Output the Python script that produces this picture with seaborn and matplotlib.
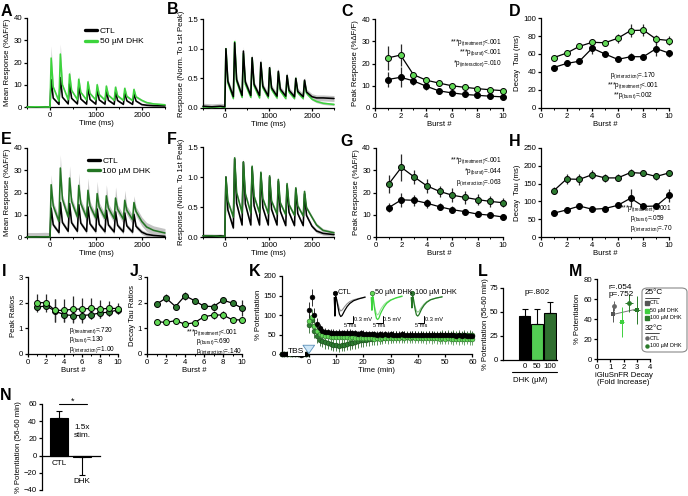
import matplotlib
matplotlib.use("Agg")
import matplotlib.pyplot as plt
from matplotlib.patches import FancyBboxPatch
from matplotlib.lines import Line2D
from matplotlib.ticker import MultipleLocator
import numpy as np
import seaborn as sns

# ======================= DATA =======================
BURST_ONSET_MS = [0, 200, 400, 600, 800, 1000, 1200, 1400, 1600, 1800]
TRACE_BASE_MS = [-500, -300, -100, 0]
TRACE_TAIL_MS = [2100, 2250, 2500]

# Panel A : 50 uM DHK, mean response (%dF/F)
A_CTL_BASE = [0.1, 0.0, 0.1, 0.0]
A_CTL_PEAK = [12.3, 13.2, 10.4, 9.3, 8.6, 7.8, 7.3, 6.8, 6.4, 6.0]
A_CTL_MID = [4.0, 4.4, 3.9, 3.6, 3.4, 3.2, 3.0, 2.9, 2.8, 2.7]
A_CTL_TROUGH = [1.2, 1.4, 1.4, 1.3, 1.3, 1.3, 1.2, 1.2, 1.2, 1.1]
A_CTL_TAIL = [0.8, 0.6, 0.5]
A_CTL_PEAK_SEM = [2.0, 2.5, 1.5, 1.2, 1.0, 1.0, 0.9, 0.9, 0.8, 0.8]
A_CTL_SEM = 0.4
A_DHK_BASE = [0.0, 0.1, 0.0, 0.0]
A_DHK_PEAK = [22.0, 23.8, 14.8, 12.5, 11.3, 10.0, 9.4, 8.9, 8.4, 7.9]
A_DHK_MID = [9.0, 10.0, 7.5, 6.6, 6.1, 5.6, 5.3, 5.0, 4.8, 4.6]
A_DHK_TROUGH = [2.6, 3.3, 3.3, 3.2, 3.2, 3.1, 3.0, 3.0, 2.9, 3.0]
A_DHK_TAIL = [2.0, 1.4, 1.0]
A_DHK_PEAK_SEM = [5.5, 4.5, 1.8, 1.5, 1.2, 1.2, 1.0, 1.0, 0.9, 0.9]
A_DHK_SEM = 0.5

# Panel B : 50 uM DHK, normalised to first peak
B_CTL_BASE = [0.03, 0.02, 0.03, 0.02]
B_CTL_PEAK = [1.0, 1.1, 0.96, 0.85, 0.77, 0.68, 0.62, 0.55, 0.50, 0.47]
B_CTL_MID = [0.45, 0.48, 0.44, 0.40, 0.37, 0.34, 0.32, 0.30, 0.28, 0.27]
B_CTL_TROUGH = [0.19, 0.21, 0.21, 0.21, 0.2, 0.2, 0.2, 0.19, 0.19, 0.19]
B_CTL_TAIL = [0.17, 0.17, 0.16]
B_CTL_PEAK_SEM = [0.02, 0.07, 0.08, 0.07, 0.07, 0.06, 0.06, 0.06, 0.05, 0.05]
B_CTL_SEM = 0.05
B_DHK_BASE = [0.02, 0.01, 0.02, 0.01]
B_DHK_PEAK = [1.0, 1.12, 0.92, 0.84, 0.75, 0.67, 0.60, 0.54, 0.50, 0.45]
B_DHK_MID = [0.42, 0.45, 0.40, 0.37, 0.34, 0.31, 0.29, 0.27, 0.26, 0.25]
B_DHK_TROUGH = [0.16, 0.18, 0.18, 0.17, 0.17, 0.17, 0.16, 0.16, 0.16, 0.15]
B_DHK_TAIL = [0.11, 0.08, 0.06]
B_DHK_PEAK_SEM = [0.01, 0.04, 0.04, 0.04, 0.03, 0.03, 0.03, 0.03, 0.03, 0.03]
B_DHK_SEM = 0.02

# Panel E : 100 uM DHK, mean response (%dF/F)
E_CTL_BASE = [0.0, 0.1, 0.0, 0.0]
E_CTL_PEAK = [13.0, 15.5, 15.0, 14.5, 13.5, 12.6, 12.0, 11.3, 10.8, 10.2]
E_CTL_MID = [5.5, 6.5, 6.4, 6.2, 5.9, 5.6, 5.4, 5.2, 5.0, 4.8]
E_CTL_TROUGH = [2.0, 2.6, 2.6, 2.5, 2.5, 2.4, 2.3, 2.3, 2.2, 2.2]
E_CTL_TAIL = [1.2, 0.7, 0.3]
E_CTL_PEAK_SEM = [2.0, 3.0, 3.0, 3.0, 2.5, 2.5, 2.5, 2.0, 2.0, 2.0]
E_CTL_SEM = 1.0
E_DHK_BASE = [0.0, 0.0, 0.1, 0.0]
E_DHK_PEAK = [23.5, 31.0, 26.5, 23.2, 21.0, 19.5, 18.5, 17.5, 16.5, 15.5]
E_DHK_MID = [14.0, 17.0, 16.0, 15.0, 14.0, 13.5, 13.0, 12.5, 12.0, 11.5]
E_DHK_TROUGH = [7.0, 9.0, 9.0, 8.8, 8.6, 8.4, 8.2, 8.0, 7.8, 7.0]
E_DHK_TAIL = [4.5, 3.0, 1.8]
E_DHK_PEAK_SEM = [4.5, 6.0, 5.5, 5.5, 5.5, 5.5, 5.0, 5.0, 4.5, 3.0]
E_DHK_SEM = 2.0

# Panel F : 100 uM DHK, normalised
F_CTL_BASE = [0.02, 0.01, 0.02, 0.01]
F_CTL_PEAK = [1.0, 1.3, 1.25, 1.16, 1.06, 1.0, 0.93, 0.86, 0.80, 0.72]
F_CTL_MID = [0.45, 0.56, 0.55, 0.52, 0.49, 0.46, 0.43, 0.41, 0.39, 0.36]
F_CTL_TROUGH = [0.15, 0.2, 0.2, 0.2, 0.2, 0.2, 0.19, 0.19, 0.19, 0.18]
F_CTL_TAIL = [0.1, 0.06, 0.04]
F_CTL_PEAK_SEM = [0.02, 0.06, 0.06, 0.06, 0.06, 0.06, 0.06, 0.06, 0.05, 0.05]
F_CTL_SEM = 0.03
F_DHK_BASE = [0.02, 0.02, 0.01, 0.01]
F_DHK_PEAK = [1.0, 1.32, 1.25, 1.18, 1.08, 1.02, 0.96, 0.89, 0.82, 0.76]
F_DHK_MID = [0.6, 0.74, 0.72, 0.68, 0.64, 0.6, 0.57, 0.54, 0.52, 0.49]
F_DHK_TROUGH = [0.33, 0.4, 0.4, 0.4, 0.39, 0.38, 0.37, 0.36, 0.35, 0.33]
F_DHK_TAIL = [0.2, 0.11, 0.07]
F_DHK_PEAK_SEM = [0.01, 0.04, 0.04, 0.04, 0.04, 0.04, 0.04, 0.04, 0.04, 0.04]
F_DHK_SEM = 0.03

BURST = [1, 2, 3, 4, 5, 6, 7, 8, 9, 10]
# Panel C : peak response, 50 uM
C_DHK = [22.5, 23.8, 15.0, 12.5, 11.2, 10.0, 9.3, 8.7, 8.2, 7.8]
C_DHK_ERR = [5.5, 5.0, 1.0, 0.8, 0.6, 0.5, 0.5, 0.5, 0.5, 0.5]
C_CTL = [12.8, 13.8, 12.2, 9.8, 7.7, 6.8, 6.1, 5.7, 5.3, 5.0]
C_CTL_ERR = [3.5, 4.5, 2.0, 1.5, 0.8, 0.5, 0.5, 0.5, 0.5, 0.5]
# Panel D : decay tau, 50 uM
D_DHK = [56, 61, 68.5, 73, 72.5, 77.5, 86, 86.5, 76.5, 75]
D_DHK_ERR = [2, 2, 2, 4, 3, 5, 7, 7, 5, 5]
D_CTL = [45, 49.5, 52, 66.5, 60, 54, 57, 57, 66, 61]
D_CTL_ERR = [2, 2, 2, 6, 2, 2, 4, 2, 8, 4]
# Panel G : peak response, 100 uM
G_DHK = [23.8, 31.3, 27.0, 23.0, 20.5, 18.8, 17.8, 16.8, 16.0, 15.4]
G_DHK_ERR = [4, 6, 3, 3, 2.5, 3, 3, 2.5, 2.5, 2]
G_CTL = [13.2, 16.7, 16.5, 15.2, 13.6, 12.3, 11.4, 10.3, 9.8, 9.0]
G_CTL_ERR = [2, 3, 2.5, 2, 1.5, 1.5, 1.2, 1.0, 1.0, 0.8]
# Panel H : decay tau, 100 uM
H_DHK = [130, 163, 162, 175, 166, 166, 181, 179, 170, 180]
H_DHK_ERR = [10, 15, 15, 12, 12, 10, 10, 8, 10, 8]
H_CTL = [67, 76, 87, 78, 80, 89, 109, 86, 87, 117]
H_CTL_ERR = [4, 4, 4, 4, 4, 5, 25, 5, 6, 18]
# Panel I : peak ratios
I_50 = [2.0, 2.0, 1.7, 1.7, 1.75, 1.75, 1.78, 1.75, 1.78, 1.77]
I_50_ERR = [0.35, 0.35, 0.45, 0.45, 0.5, 0.45, 0.4, 0.35, 0.3, 0.2]
I_100 = [1.83, 1.87, 1.68, 1.53, 1.5, 1.5, 1.53, 1.6, 1.63, 1.72]
I_100_ERR = [0.12, 0.12, 0.45, 0.3, 0.3, 0.3, 0.15, 0.2, 0.15, 0.15]
# Panel J : decay tau ratios
J_50 = [1.26, 1.23, 1.3, 1.16, 1.22, 1.45, 1.52, 1.52, 1.33, 1.33]
J_50_ERR = [0.05, 0.05, 0.06, 0.1, 0.06, 0.1, 0.15, 0.15, 0.1, 0.08]
J_100 = [1.94, 2.18, 1.85, 2.27, 2.08, 1.86, 1.85, 2.1, 1.98, 1.79]
J_100_ERR = [0.1, 0.15, 0.07, 0.15, 0.08, 0.1, 0.12, 0.08, 0.1, 0.3]

# Panel K : LTP time course (% potentiation), 1-min bins
K_TIME = list(range(-10, 61))
K_CTL = [1, -1, 0, 2, -1, 0, 1, -2, 0, 1,
         113, 145, 100, 78, 66, 60, 57, 56, 55, 55,
         54, 55, 54, 53, 54, 55, 54, 53, 52, 53,
         52, 51, 52, 51, 52, 50, 51, 50, 51, 50,
         51, 50, 49, 50, 51, 50, 49, 50, 49, 50,
         49, 50, 49, 48, 49, 50, 49, 48, 49, 48,
         49, 48, 49, 48, 47, 48, 47, 48, 47, 46, 47]
K_CTL_ERR = [3, 3, 2, 3, 3, 2, 3, 3, 2, 3,
             20, 22, 18, 14, 12, 10, 9, 9, 8, 8,
             8, 9, 8, 8, 9, 8, 8, 9, 8, 8,
             9, 8, 8, 9, 8, 8, 9, 8, 8, 9,
             8, 8, 9, 8, 8, 9, 8, 8, 9, 8,
             8, 9, 8, 8, 9, 8, 8, 9, 8, 8,
             9, 8, 8, 9, 8, 8, 9, 8, 8, 9, 8]
K_D50 = [0, 1, -1, 0, 1, 0, -1, 1, 0, -1,
         85, 95, 72, 60, 52, 48, 46, 45, 44, 44,
         43, 44, 43, 44, 43, 42, 43, 42, 41, 42,
         41, 40, 41, 40, 39, 40, 39, 40, 41, 40,
         41, 42, 41, 42, 43, 42, 43, 42, 43, 42,
         41, 42, 41, 40, 41, 40, 41, 40, 39, 40,
         39, 40, 39, 38, 39, 38, 39, 38, 39, 38, 38]
K_D50_ERR = [3, 2, 3, 3, 2, 3, 3, 2, 3, 3,
             18, 20, 17, 15, 14, 14, 13, 14, 13, 14,
             14, 13, 14, 14, 13, 14, 14, 13, 14, 14,
             14, 15, 14, 15, 14, 15, 14, 15, 14, 15,
             14, 15, 14, 15, 14, 15, 14, 15, 14, 15,
             14, 15, 14, 15, 14, 15, 14, 15, 14, 15,
             14, 15, 14, 15, 14, 15, 14, 15, 14, 15, 14]
K_D100 = [-1, 0, 1, 0, -1, 1, 0, 0, -1, 1,
          75, 88, 60, 45, 37, 33, 30, 27, 25, 23,
          22, 21, 22, 23, 25, 27, 29, 31, 33, 35,
          36, 37, 38, 39, 40, 40, 41, 42, 42, 43,
          43, 44, 44, 44, 45, 45, 46, 45, 46, 47,
          46, 47, 46, 47, 48, 47, 48, 47, 48, 49,
          48, 49, 48, 49, 48, 49, 48, 49, 48, 49, 48]
K_D100_ERR = [3, 3, 2, 3, 3, 2, 3, 3, 2, 3,
              20, 22, 20, 18, 17, 16, 16, 15, 15, 15,
              15, 15, 15, 15, 16, 16, 17, 17, 18, 18,
              18, 17, 17, 16, 16, 16, 15, 15, 15, 14,
              14, 14, 14, 13, 13, 13, 13, 12, 12, 12,
              12, 12, 12, 12, 12, 12, 12, 12, 12, 12,
              12, 12, 12, 12, 12, 12, 12, 12, 12, 12, 12]

# fEPSP example waveforms (mV) for panel K insets
WAVE_MS = [0, 0.5, 1, 1.5, 2, 3, 4, 5, 6, 7, 8, 10, 12, 15, 19, 24]
WAVE_CTL_PRE = [0.0, -0.75, 0.05, 0.0, -0.1, -0.3, -0.5, -0.58, -0.55, -0.48, -0.4, -0.27, -0.18, -0.1, -0.04, 0.0]
WAVE_CTL_POST = [0.0, -0.8, 0.05, 0.0, -0.15, -0.45, -0.72, -0.82, -0.78, -0.68, -0.57, -0.39, -0.26, -0.14, -0.06, 0.02]
WAVE_D50_PRE = [0.0, -0.5, 0.05, 0.0, -0.2, -0.5, -0.7, -0.75, -0.68, -0.55, -0.45, -0.3, -0.2, -0.1, -0.03, 0.04]
WAVE_D50_POST = [0.0, -0.55, 0.05, 0.0, -0.25, -0.65, -0.9, -0.95, -0.88, -0.72, -0.6, -0.4, -0.25, -0.12, -0.02, 0.06]
WAVE_D100_PRE = [0.0, -0.4, 0.05, 0.0, -0.15, -0.4, -0.58, -0.63, -0.6, -0.5, -0.42, -0.28, -0.18, -0.09, -0.03, 0.02]
WAVE_D100_POST = [0.0, -0.45, 0.05, 0.0, -0.2, -0.52, -0.75, -0.8, -0.74, -0.62, -0.5, -0.33, -0.21, -0.1, -0.03, 0.03]

# Panel L : potentiation at 56-60 min
L_DOSE = ["0", "50", "100"]
L_VAL = [45.5, 38.0, 48.5]
L_ERR = [7.5, 15.0, 11.5]

# Panel M : potentiation vs iGluSnFR decay fold increase
M_LABEL = ["CTL 25", "50 DHK 25", "100 DHK 25", "CTL 32", "100 DHK 32"]
M_X = [1.2, 1.87, 3.0, 1.25, 2.45]
M_Y = [45.0, 37.5, 49.5, 53.0, 56.3]
M_XERR = [0.1, 0.2, 0.25, 0.1, 0.3]
M_YERR = [8, 15, 14, 5, 9]
M_FIT_X = [1.2, 3.0]
M_FIT_Y = [44.5, 50.0]

# Panel N : 1.5x stimulation
N_GROUP = ["CTL", "DHK"]
N_VAL = [44.0, -2.0]
N_ERR_UP = [8.0, 0.0]
N_ERR_DOWN = [0.0, 20.0]

# ======================= STYLE =======================
W, H = 688, 496
FS = 5.6
FS_P = 4.7
LIGHT = "#3cd43c"
LIGHT_FACE = "#62d957"
DARK = "#237523"
DARK_FACE = "#2d7b31"
BAND = "#c4c4c4"

sns.set_theme(style="ticks", rc={
    "axes.edgecolor": "black", "axes.linewidth": 0.9,
    "xtick.color": "black", "ytick.color": "black",
    "text.color": "black", "axes.labelcolor": "black",
    "xtick.direction": "out", "ytick.direction": "out",
    "xtick.major.size": 2.4, "ytick.major.size": 2.4,
    "xtick.minor.size": 1.4, "ytick.minor.size": 1.4,
    "xtick.major.width": 0.9, "ytick.major.width": 0.9,
    "xtick.minor.width": 0.7, "ytick.minor.width": 0.7,
    "xtick.major.pad": 1.2, "ytick.major.pad": 1.2,
    "xtick.labelsize": FS, "ytick.labelsize": FS, "axes.labelsize": FS,
    "axes.facecolor": "none", "figure.facecolor": "white",
})
plt.rcParams["font.family"] = ["Liberation Sans", "DejaVu Sans"]
plt.rcParams["mathtext.fontset"] = "custom"
plt.rcParams["mathtext.rm"] = "Liberation Sans"
plt.rcParams["mathtext.it"] = "Liberation Sans:italic"
plt.rcParams["mathtext.bf"] = "Liberation Sans:bold"

fig = plt.figure(figsize=(W / 100, H / 100), dpi=100)


def axpx(x0, y0, x1, y1):
    return fig.add_axes([x0 / W, 1 - y1 / H, (x1 - x0) / W, (y1 - y0) / H])


def finish(ax, xlim, ylim, xticks, yticks, xlabel="", ylabel="", xminor=None, xlabels=None, ylpad=1.5):
    ax.set_xlim(xlim)
    ax.set_ylim(ylim)
    ax.set_xticks(xticks)
    if xlabels is not None:
        ax.set_xticklabels(xlabels)
    ax.set_yticks(yticks)
    if xminor:
        ax.xaxis.set_minor_locator(MultipleLocator(xminor))
    ax.set_xlabel(xlabel, fontsize=FS, labelpad=1)
    ax.set_ylabel(ylabel, fontsize=FS, labelpad=ylpad)
    sns.despine(ax=ax)


def letter(x, y, s):
    fig.text(x / W, 1 - y / H, s, fontsize=11.5, fontweight="bold", ha="center", va="center")


def ptext(ax, x, y, stars, sub, rest, ha="left"):
    s = stars + "p" + r"$_{\mathrm{(" + sub + r")}}$" + rest
    ax.text(x, y, s, fontsize=FS_P, ha=ha, va="center", clip_on=False)


PEAK_OFF, MID_OFF, END_OFF = 25, 70, 195


def build_trace(base, peak, mid, trough, tail, peak_sem, sem):
    t = list(TRACE_BASE_MS)
    v = list(base)
    s = [sem] * len(base)
    for k, t0 in enumerate(BURST_ONSET_MS):
        t += [t0 + PEAK_OFF, t0 + MID_OFF, t0 + END_OFF]
        v += [peak[k], mid[k], trough[k]]
        s += [peak_sem[k], sem, sem]
    t += TRACE_TAIL_MS
    v += list(tail)
    s += [sem] * len(tail)
    return np.array(t, float), np.array(v, float), np.array(s, float)


def trace_panel(ax, traces):
    built = []
    for tr, color in traces:
        t, v, s = build_trace(*tr)
        ax.fill_between(t, v - s, v + s, color=BAND, lw=0, zorder=1)
        built.append((t, v, color))
    for t, v, color in built:
        sns.lineplot(x=t, y=v, ax=ax, color=color, lw=1.15, zorder=3,
                     estimator=None, clip_on=False)


def burst_panel(ax, series):
    for y, e, face in series:
        ax.errorbar(BURST, y, yerr=e, fmt="none", ecolor="#2a2a2a",
                    elinewidth=0.9, zorder=2, clip_on=False)
        sns.lineplot(x=BURST, y=y, ax=ax, color="black", lw=0.9, zorder=3,
                     marker="o", markersize=4.3, markerfacecolor=face,
                     markeredgecolor="black", markeredgewidth=0.7,
                     estimator=None, clip_on=False)


# ---------------- A ----------------
axA = axpx(27, 18, 165, 107)
trace_panel(axA, [((A_CTL_BASE, A_CTL_PEAK, A_CTL_MID, A_CTL_TROUGH, A_CTL_TAIL, A_CTL_PEAK_SEM, A_CTL_SEM), "black"),
                  ((A_DHK_BASE, A_DHK_PEAK, A_DHK_MID, A_DHK_TROUGH, A_DHK_TAIL, A_DHK_PEAK_SEM, A_DHK_SEM), LIGHT)])
finish(axA, (-500, 2500), (0, 40), [0, 1000, 2000], [0, 10, 20, 30, 40],
       "Time (ms)", "Mean Response (%ΔF/F)", xminor=500)
axA.legend([Line2D([], [], color="black", lw=2.4), Line2D([], [], color=LIGHT, lw=2.4)],
           ["CTL", "50 µM DHK"], loc="upper left", bbox_to_anchor=(0.42, 0.90),
           frameon=False, fontsize=FS + 0.4, handlelength=1.5, handletextpad=0.25,
           labelspacing=0.35, borderaxespad=0, borderpad=0)

# ---------------- B ----------------
axB = axpx(203, 19, 334, 108)
trace_panel(axB, [((B_DHK_BASE, B_DHK_PEAK, B_DHK_MID, B_DHK_TROUGH, B_DHK_TAIL, B_DHK_PEAK_SEM, B_DHK_SEM), LIGHT),
                  ((B_CTL_BASE, B_CTL_PEAK, B_CTL_MID, B_CTL_TROUGH, B_CTL_TAIL, B_CTL_PEAK_SEM, B_CTL_SEM), "black")])
finish(axB, (-500, 2500), (0, 1.5), [0, 1000, 2000], [0, 0.5, 1.0, 1.5],
       "Time (ms)", "Response (Norm. To 1st Peak)", xminor=500)
axB.set_yticklabels(["0.0", "0.5", "1.0", "1.5"])

# ---------------- C ----------------
axC = axpx(375, 19, 503, 108)
burst_panel(axC, [(C_DHK, C_DHK_ERR, LIGHT_FACE), (C_CTL, C_CTL_ERR, "black")])
finish(axC, (0, 10), (0, 40), [0, 2, 4, 6, 8, 10], [0, 10, 20, 30, 40],
       "Burst #", "Peak Response (%ΔF/F)", xminor=1)
ptext(axC, 9.9, 29.4, "***", "treatment", "<.001", ha="right")
ptext(axC, 9.9, 24.7, "***", "burst", "<.001", ha="right")
ptext(axC, 9.9, 20.0, "*", "interaction", "=.010", ha="right")

# ---------------- D ----------------
axD = axpx(541, 18, 669, 108)
burst_panel(axD, [(D_DHK, D_DHK_ERR, LIGHT_FACE), (D_CTL, D_CTL_ERR, "black")])
finish(axD, (0, 10), (0, 100), [0, 2, 4, 6, 8, 10], [0, 20, 40, 60, 80, 100],
       "Burst #", "Decay  Tau (ms)", xminor=1)
ptext(axD, 7.2, 36.5, "", "interaction", "=.170", ha="center")
ptext(axD, 7.2, 25.4, "***", "treatment", "<.001", ha="center")
ptext(axD, 7.2, 14.2, "**", "burst", "=.002", ha="center")

# ---------------- E ----------------
axE = axpx(27, 148, 165, 237)
trace_panel(axE, [((E_CTL_BASE, E_CTL_PEAK, E_CTL_MID, E_CTL_TROUGH, E_CTL_TAIL, E_CTL_PEAK_SEM, E_CTL_SEM), "black"),
                  ((E_DHK_BASE, E_DHK_PEAK, E_DHK_MID, E_DHK_TROUGH, E_DHK_TAIL, E_DHK_PEAK_SEM, E_DHK_SEM), DARK)])
finish(axE, (-500, 2500), (0, 40), [0, 1000, 2000], [0, 10, 20, 30, 40],
       "Time (ms)", "Mean Response (%ΔF/F)", xminor=500)
axE.legend([Line2D([], [], color="black", lw=2.4), Line2D([], [], color=DARK, lw=2.4)],
           ["CTL", "100 µM DHK"], loc="upper left", bbox_to_anchor=(0.44, 0.90),
           frameon=False, fontsize=FS + 0.4, handlelength=1.5, handletextpad=0.25,
           labelspacing=0.25, borderaxespad=0, borderpad=0)

# ---------------- F ----------------
axF = axpx(203, 147, 334, 237)
trace_panel(axF, [((F_CTL_BASE, F_CTL_PEAK, F_CTL_MID, F_CTL_TROUGH, F_CTL_TAIL, F_CTL_PEAK_SEM, F_CTL_SEM), "black"),
                  ((F_DHK_BASE, F_DHK_PEAK, F_DHK_MID, F_DHK_TROUGH, F_DHK_TAIL, F_DHK_PEAK_SEM, F_DHK_SEM), DARK)])
finish(axF, (-500, 2500), (0, 1.5), [0, 1000, 2000], [0, 0.5, 1.0, 1.5],
       "Time (ms)", "Response (Norm. To 1st Peak)", xminor=500)
axF.set_yticklabels(["0.0", "0.5", "1.0", "1.5"])

# ---------------- G ----------------
axG = axpx(376, 148, 503, 237)
burst_panel(axG, [(G_DHK, G_DHK_ERR, DARK_FACE), (G_CTL, G_CTL_ERR, "black")])
finish(axG, (0, 10), (0, 40), [0, 2, 4, 6, 8, 10], [0, 10, 20, 30, 40],
       "Burst #", "Peak Response (%ΔF/F)", xminor=1)
ptext(axG, 9.9, 34.4, "***", "treatment", "<.001", ha="right")
ptext(axG, 9.9, 29.4, "*", "burst", "=.044", ha="right")
ptext(axG, 9.9, 24.6, "", "interaction", "=.063", ha="right")

# ---------------- H ----------------
axH = axpx(541, 148, 669, 237)
burst_panel(axH, [(H_DHK, H_DHK_ERR, DARK_FACE), (H_CTL, H_CTL_ERR, "black")])
finish(axH, (0, 10), (0, 250), [0, 2, 4, 6, 8, 10], [0, 50, 100, 150, 200, 250],
       "Burst #", "Decay  Tau (ms)", xminor=1)
ptext(axH, 6.2, 78.5, "***", "treatment", "<.001")
ptext(axH, 6.95, 50.6, "", "burst", "=.059")
ptext(axH, 6.95, 22.5, "", "interaction", "=.70")

# ---------------- I ----------------
axI = axpx(28, 277, 118, 354)
burst_panel(axI, [(I_100, I_100_ERR, DARK_FACE), (I_50, I_50_ERR, LIGHT_FACE)])
finish(axI, (0, 10), (0, 3), [0, 2, 4, 6, 8, 10], [0, 1, 2, 3],
       "Burst #", "Peak Ratios", xminor=1)
ptext(axI, 4.6, 0.93, "", "treatment", "=.720")
ptext(axI, 4.6, 0.55, "", "burst", "=.130")
ptext(axI, 4.6, 0.17, "", "interaction", "=1.00")

# ---------------- J ----------------
axJ = axpx(147, 277, 242, 354)
burst_panel(axJ, [(J_100, J_100_ERR, DARK_FACE), (J_50, J_50_ERR, LIGHT_FACE)])
finish(axJ, (0, 10), (0, 3), [0, 2, 4, 6, 8, 10], [0, 1, 2, 3],
       "Burst #", "Decay Tau Ratios", xminor=1)
ptext(axJ, 4.1, 0.84, "***", "treatment", "<.001")
ptext(axJ, 5.2, 0.47, "", "burst", "=.690")
ptext(axJ, 5.2, 0.1, "", "interaction", "=.140")

# ---------------- K ----------------
axK = axpx(281.5, 276, 472.5, 354)
for vals, errs, face, edge, ecol in [(K_D100, K_D100_ERR, DARK_FACE, "#174a17", "#2f6a2f"),
                                     (K_D50, K_D50_ERR, LIGHT_FACE, "#2b6b2b", "#5a9a5a"),
                                     (K_CTL, K_CTL_ERR, "black", "black", "#111111")]:
    axK.errorbar(K_TIME, vals, yerr=errs, fmt="none", ecolor=ecol, elinewidth=0.6, zorder=2, clip_on=False)
    sns.scatterplot(x=K_TIME, y=vals, ax=axK, color=face, edgecolor=edge, linewidth=0.4,
                    s=12, zorder=3, clip_on=False, legend=False)
finish(axK, (-10, 60), (0, 200), [0, 10, 20, 30, 40, 50, 60], [0, 50, 100, 150, 200],
       "Time (min)", "% Potentiation")
axK.text(-4.6, 6, "TBS", fontsize=FS + 0.4, ha="center", va="center", zorder=5,
         bbox=dict(facecolor="white", edgecolor="none", pad=0.3))
axK.annotate("", xy=(0, -6), xytext=(0, 24), annotation_clip=False, zorder=6,
             arrowprops=dict(arrowstyle="simple,head_width=0.7,head_length=0.5,tail_width=0.35",
                             fc="#cfe7f7", ec="#5b8fb8", lw=0.6))

# legend entries for K
for xk, face, edge, lab in [(335, "black", "black", "CTL"), (372, LIGHT_FACE, "#2b6b2b", "50 µM DHK"),
                            (412, DARK_FACE, "#174a17", "100 µM DHK")]:
    fig.add_artist(Line2D([xk / W], [1 - 293 / H], marker="o", ms=3.2, mfc=face, mec=edge, mew=0.5,
                          ls="none", transform=fig.transFigure))
    fig.text((xk + 3) / W, 1 - 293 / H, lab, fontsize=FS - 0.4, va="center", ha="left")

# K insets (example fEPSPs)
for x0, pre, post, c_pre, c_post, mv, vbar_ms in [
        (333, WAVE_CTL_PRE, WAVE_CTL_POST, "#909090", "black", "0.3 mV", 14.5),
        (370, WAVE_D50_PRE, WAVE_D50_POST, "#9be39b", LIGHT, "0.5 mV", 9.0),
        (410, WAVE_D100_PRE, WAVE_D100_POST, "#8cc98c", DARK, "0.3 mV", 9.9)]:
    axi = axpx(x0, 294, x0 + 36, 330)
    axi.plot(WAVE_MS, pre, color=c_pre, lw=0.8)
    axi.plot(WAVE_MS, post, color=c_post, lw=0.9)
    axi.plot([vbar_ms, vbar_ms], [-0.78, -1.08], color="black", lw=0.7)
    axi.plot([vbar_ms - 5, vbar_ms], [-1.08, -1.08], color="black", lw=0.7)
    axi.text(vbar_ms + 0.5, -0.93, mv, fontsize=4.1, ha="left", va="center")
    axi.text(vbar_ms - 2.5, -1.12, "5 ms", fontsize=4.1, ha="center", va="top")
    axi.set_xlim(-1, 27)
    axi.set_ylim(-1.4, 0.15)
    axi.axis("off")

# ---------------- L ----------------
axL = axpx(503, 288, 557, 360)
sns.barplot(x=L_DOSE, y=L_VAL, hue=L_DOSE, palette=["black", "#3fe03f", "#257a25"], ax=axL,
            width=0.92, edgecolor="black", linewidth=0.8, legend=False, errorbar=None)
axL.errorbar([0, 1, 2], L_VAL, yerr=[[0, 0, 0], L_ERR], fmt="none", ecolor="black",
             elinewidth=0.8, capsize=2.2, capthick=0.8, zorder=5)
finish(axL, (-1.7, 2.55), (0, 75), [0, 1, 2], [0, 25, 50, 75], "DHK (µM)",
       "% Potentiation (56-60 min)", xlabels=L_DOSE, ylpad=0.5)
axL.tick_params(axis="x", length=0, pad=2)
axL.xaxis.labelpad = 5
axL.plot([0.17, 1.0], [-0.17, -0.17], transform=axL.transAxes, color="black", lw=0.8, clip_on=False)
axL.text(1, 70.5, "p=.802", fontsize=FS + 0.3, ha="center", va="center")

# ---------------- M ----------------
axM = axpx(597, 279, 650, 359)
sns.lineplot(x=M_FIT_X, y=M_FIT_Y, ax=axM, color="#777777", lw=0.7, zorder=1, estimator=None)
m_marker = ["s", "s", "s", "o", "o"]
m_color = ["#555555", "#3fd03f", "#2a7a2a", "#666666", "#2a7a2a"]
for i in range(len(M_X)):
    axM.errorbar(M_X[i], M_Y[i], xerr=M_XERR[i], yerr=M_YERR[i], fmt="none",
                 ecolor=m_color[i], elinewidth=0.7, zorder=2, clip_on=False)
    sns.scatterplot(x=[M_X[i]], y=[M_Y[i]], ax=axM, marker=m_marker[i], color=m_color[i],
                    s=12, linewidth=0, zorder=3, legend=False, clip_on=False)
finish(axM, (0, 4), (0, 80), [0, 1, 2, 3, 4], [0, 20, 40, 60, 80],
       "iGluSnFR Decay\n(Fold Increase)", "% Potentiation")
axM.xaxis.label.set_linespacing(1.0)
axM.text(0.9, 75, "r=.054\np=.752", fontsize=FS + 0.3, ha="left", va="top", linespacing=1.05)

# legend box for M
fig.add_artist(FancyBboxPatch((642 / W, 1 - 352 / H), 45 / W, 64 / H,
                              boxstyle="round,pad=0,rounding_size=0.008",
                              transform=fig.transFigure, facecolor="white",
                              edgecolor="#8a8a8a", lw=0.8, zorder=10))
for ytop, head in [(293, "25°C"), (328, "32°C")]:
    fig.text(645 / W, 1 - ytop / H, head, fontsize=FS + 0.3, va="center", ha="left", zorder=11)
    fig.add_artist(Line2D([645 / W, 659 / W], [1 - (ytop + 4.5) / H] * 2, color="black", lw=0.5,
                          transform=fig.transFigure, zorder=11))
for ye, mk, col, lab in [(303, "s", "#555555", "CTL"), (310.5, "s", "#3fd03f", "50 µM DHK"),
                         (318, "s", "#2a7a2a", "100 µM DHK"), (338, "o", "#666666", "CTL"),
                         (346, "o", "#2a7a2a", "100 µM DHK")]:
    fig.add_artist(Line2D([647 / W], [1 - ye / H], marker=mk, ms=2.2, color=col, ls="none",
                          transform=fig.transFigure, zorder=11))
    fig.text(650 / W, 1 - ye / H, lab, fontsize=3.9, va="center", ha="left", zorder=11)

# ---------------- N ----------------
axN = axpx(42, 404, 100, 490)
sns.barplot(x=N_GROUP, y=N_VAL, hue=N_GROUP, palette=["black", "#257a25"], ax=axN,
            width=0.75, edgecolor="black", linewidth=0.8, legend=False, errorbar=None)
axN.errorbar([0, 1], N_VAL, yerr=[N_ERR_DOWN, N_ERR_UP], fmt="none", ecolor="black",
             elinewidth=0.8, capsize=2.2, capthick=0.8, zorder=5)
finish(axN, (-0.74, 1.78), (-40, 60), [], [-40, -20, 0, 20, 40, 60], "",
       "% Potentiation (56-60 min)")
axN.spines["bottom"].set_position(("data", 0))
axN.text(0, -9, "CTL", fontsize=FS + 0.3, ha="center", va="center")
axN.text(1, -30, "DHK", fontsize=FS + 0.3, ha="center", va="center")
axN.text(1.0, 28, "1.5x\nstim.", fontsize=FS + 0.3, ha="center", va="center", linespacing=1.1)
axN.plot([0, 1.2], [60, 60], color="black", lw=0.8, clip_on=False)
axN.text(0.6, 63, "*", fontsize=FS + 1, ha="center", va="center")

# ---------------- letters ----------------
for x, y, s in [(6, 11, "A"), (173, 10, "B"), (347, 11, "C"), (515, 11, "D"),
                (6, 140, "E"), (172, 139, "F"), (347, 141, "G"), (515, 141, "H"),
                (4, 272, "I"), (134, 272, "J"), (255, 272, "K"), (483, 271, "L"),
                (576, 271, "M"), (6, 395, "N")]:
    letter(x, y, s)

fig.savefig("out.png", dpi=100)
